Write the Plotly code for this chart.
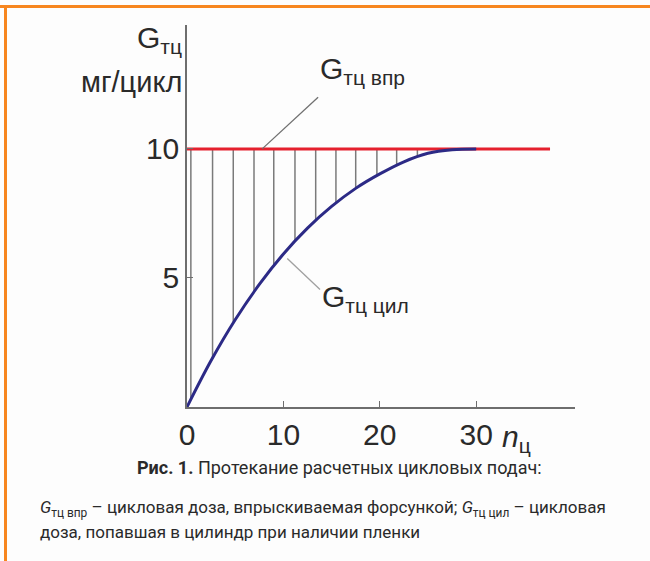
import numpy as np
import plotly.graph_objects as go

# Cycle number and cylinder-reaching cyclic dose (mg/cycle)
n_cycles = [0, 2.5, 5, 7.5, 10, 12.5, 15, 17.5, 20, 22.5, 25, 27.5, 30]
g_cyl = [0, 1.80, 3.38, 4.75, 5.93, 6.93, 7.77, 8.47, 9.03, 9.50, 9.83, 9.97, 10]

# Injected cyclic dose (constant)
g_inj_value = 10
g_inj_n = [0, 37.66]

# Hatching positions (difference between injected and cylinder dose)
hatch_n = [0.4, 2.65, 4.8, 6.95, 9.0, 11.2, 13.35, 15.45, 17.5, 19.7, 21.75, 23.9]

x_ticks = [0, 10, 20, 30]
x_tick_text = ["0", "10", "20", "30"]
y_ticks = [5, 10]
y_tick_text = ["5", "10"]

FONT = "Liberation Sans, Arial, Helvetica, sans-serif"
CAPFONT = "Roboto, Liberation Sans, Arial, sans-serif"
RED = "#e5202e"
BLUE = "#2c2a86"
GRAY = "#7a7a7a"
AXIS = "#6e6e6e"
TEXT = "#2a2a2a"
ORANGE = "#f7861f"

WIDTH, HEIGHT = 650, 561
L, R, T, B = 187, 75, 25, 154
PW, PH = WIDTH - L - R, HEIGHT - T - B


def px(x):
    return (x - L) / PW


def py(y):
    return (HEIGHT - B - y) / PH


fig = go.Figure()

# hatching lines from the curve up to the injected dose
hx, hy = [], []
for h in hatch_n:
    hx += [h, h, None]
    hy += [float(np.interp(h, n_cycles, g_cyl)), g_inj_value, None]
fig.add_trace(go.Scatter(x=hx, y=hy, mode="lines",
                         line=dict(color=GRAY, width=1.5),
                         hoverinfo="skip", showlegend=False))

fig.add_trace(go.Scatter(x=g_inj_n, y=[g_inj_value] * len(g_inj_n), mode="lines",
                         line=dict(color=RED, width=3), showlegend=False))

fig.add_trace(go.Scatter(x=n_cycles, y=g_cyl, mode="lines",
                         line=dict(color=BLUE, width=3, shape="spline", smoothing=1.0),
                         showlegend=False))

# leader lines to the curve labels
fig.add_shape(type="line", x0=7.8, y0=10, x1=13.6, y1=12.0,
              line=dict(color="#707070", width=1.3))
fig.add_shape(type="line", x0=10.4, y0=5.75, x1=13.8, y1=4.55,
              line=dict(color="#a0a0a0", width=1.3))

# frame
fig.add_shape(type="line", xref="paper", yref="paper",
              x0=px(0), y0=py(6.5), x1=px(WIDTH), y1=py(6.5),
              line=dict(color=ORANGE, width=3))
fig.add_shape(type="line", xref="paper", yref="paper",
              x0=px(5.5), y0=py(5), x1=px(5.5), y1=py(HEIGHT),
              line=dict(color=ORANGE, width=3))


def label(x, y, text, size=30, anchor="left", font=FONT):
    fig.add_annotation(xref="paper", yref="paper", x=px(x), y=py(y), text=text,
                       showarrow=False, xanchor=anchor, yanchor="middle",
                       font=dict(family=font, size=size, color=TEXT))


label(184, 40, "G<sub>тц</sub>", anchor="right")
label(184, 82, "мг/цикл", size=29, anchor="right")
label(318, 71, "G<sub>тц впр</sub>")
label(320, 298, "G<sub>тц цил</sub>")
label(500, 438, "<i>n</i><sub>ц</sub>")

cap = 17
label(339, 468, "<b>Рис. 1.</b> Протекание расчетных цикловых подач:", 18, "center", CAPFONT)
label(38, 509, "<i>G</i><sub>тц впр</sub> – цикловая доза, впрыскиваемая форсункой; "
               "<i>G</i><sub>тц цил</sub> – цикловая", cap, "left", CAPFONT)
label(38, 532, "доза, попавшая в цилиндр при наличии пленки", cap, "left", CAPFONT)

fig.update_layout(
    width=WIDTH, height=HEIGHT,
    margin=dict(l=L, r=R, t=T, b=B),
    paper_bgcolor="#fdfdfd", plot_bgcolor="#fdfdfd",
    showlegend=False,
    font=dict(family=FONT, color=TEXT),
    xaxis=dict(range=[0, 40.25], showgrid=False, zeroline=False,
               showline=True, linecolor=AXIS, linewidth=1.5,
               ticks="inside", ticklen=6, tickcolor=AXIS, tickwidth=1.2,
               tickvals=x_ticks, ticktext=x_tick_text,
               tickfont=dict(size=30, color=TEXT, family=FONT)),
    yaxis=dict(range=[0, 14.8], showgrid=False, zeroline=False,
               showline=True, linecolor=AXIS, linewidth=1.5,
               ticks="inside", ticklen=6, tickcolor=AXIS, tickwidth=1.2,
               tickvals=y_ticks, ticktext=y_tick_text,
               tickfont=dict(size=30, color=TEXT, family=FONT)),
)

fig.write_html("out.html")
